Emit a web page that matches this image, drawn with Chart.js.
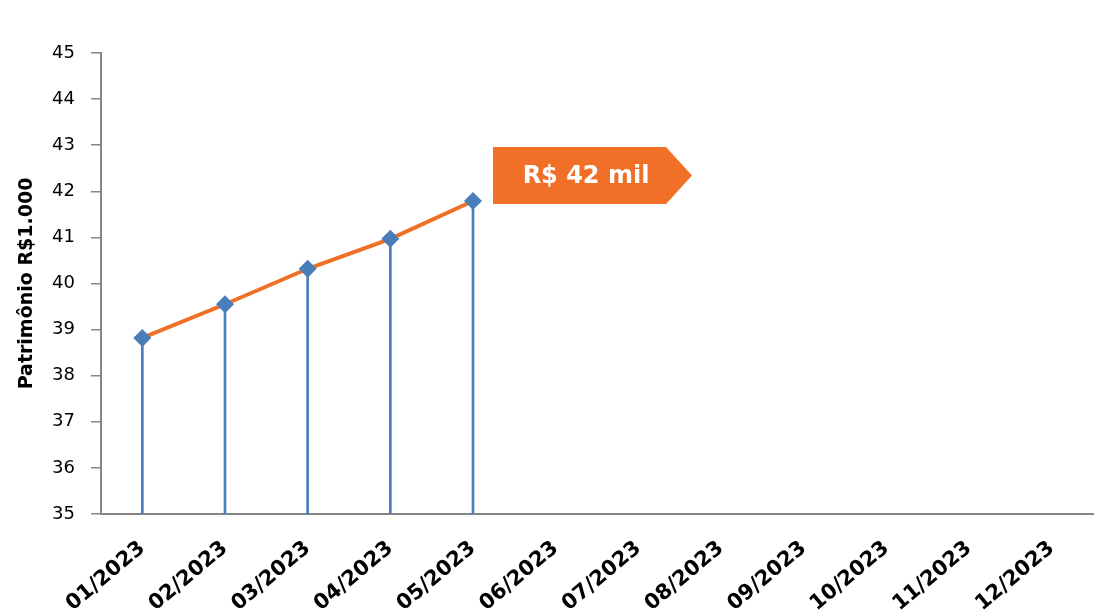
<!DOCTYPE html>
<html>
<head>
<meta charset="utf-8">
<script src="https://cdn.jsdelivr.net/npm/chart.js@4.4.1/dist/chart.umd.min.js"></script>
<style>
  html, body { margin: 0; padding: 0; background: #fff; overflow: hidden; }
  #wrap { position: relative; width: 1102px; height: 616px; }
</style>
</head>
<body>
<div id="wrap"><canvas id="c" width="1102" height="616"></canvas></div>
<script>
const categories = ['01/2023','02/2023','03/2023','04/2023','05/2023','06/2023','07/2023','08/2023','09/2023','10/2023','11/2023','12/2023'];
const patrimonio = [38.82, 39.55, 40.32, 40.97, 41.79, null, null, null, null, null, null, null];
const yTicks = [35, 36, 37, 38, 39, 40, 41, 42, 43, 44, 45];
const yTitle = 'Patrimônio R$1.000';
const calloutText = 'R$ 42 mil';

const ORANGE = '#F07028';
const BLUE = '#4A7EBB';
const AXIS = '#868686';
const FONT = '"DejaVu Sans", "Liberation Sans", sans-serif';

const calloutPlugin = {
  id: 'callout',
  afterDatasetsDraw(chart) {
    const meta = chart.getDatasetMeta(1);
    let last = null;
    meta.data.forEach((p, i) => { if (patrimonio[i] !== null) last = p; });
    if (!last) return;
    const ctx = chart.ctx;
    const left = last.x + 20, top = last.y - 54, bottom = last.y + 3;
    const bodyRight = left + 173, tip = bodyRight + 26;
    const mid = (top + bottom) / 2;
    ctx.save();
    ctx.fillStyle = ORANGE;
    ctx.beginPath();
    ctx.moveTo(left, top);
    ctx.lineTo(bodyRight, top);
    ctx.lineTo(tip, mid);
    ctx.lineTo(bodyRight, bottom);
    ctx.lineTo(left, bottom);
    ctx.closePath();
    ctx.fill();
    ctx.fillStyle = '#fff';
    ctx.font = 'bold 24px ' + FONT;
    ctx.textAlign = 'center';
    ctx.textBaseline = 'middle';
    ctx.fillText(calloutText, left + 93, mid + 1);
    ctx.restore();
  }
};

new Chart(document.getElementById('c'), {
  data: {
    labels: categories,
    datasets: [
      {
        type: 'bar',
        data: patrimonio,
        backgroundColor: BLUE,
        borderWidth: 0,
        barThickness: 2,
        order: 2
      },
      {
        type: 'line',
        data: patrimonio,
        borderColor: ORANGE,
        borderWidth: 4,
        pointStyle: 'rectRot',
        pointRadius: 9,
        pointBackgroundColor: BLUE,
        pointBorderColor: BLUE,
        pointBorderWidth: 0,
        tension: 0,
        spanGaps: false,
        order: 1
      }
    ]
  },
  options: {
    responsive: false,
    animation: false,
    events: [],
    layout: { padding: { left: 0, top: 53, right: 2, bottom: 0 } },
    plugins: { legend: { display: false }, tooltip: { enabled: false } },
    scales: {
      x: {
        offset: true,
        grid: { display: false },
        border: { display: true, color: AXIS, width: 2 },
        ticks: {
          autoSkip: false,
          minRotation: 40,
          maxRotation: 40,
          padding: 14,
          color: '#000',
          font: { family: FONT, size: 21, weight: 'bold' }
        },
        afterFit(scale) { scale.height = 102; }
      },
      y: {
        min: 35,
        max: 45,
        afterBuildTicks(scale) { scale.ticks = yTicks.map(v => ({ value: v })); },
        grid: { drawOnChartArea: false, drawTicks: true, tickLength: 10, color: AXIS, lineWidth: 1.5 },
        border: { display: true, color: AXIS, width: 2 },
        ticks: {
          padding: 16,
          color: '#000',
          font: { family: FONT, size: 18 }
        },
        title: {
          display: true,
          text: yTitle,
          color: '#000',
          font: { family: FONT, size: 19, weight: 'bold' },
          padding: { top: 16, bottom: 0 }
        },
        afterFit(scale) { scale.width = 101; }
      }
    }
  },
  plugins: [calloutPlugin]
});
</script>
</body>
</html>
